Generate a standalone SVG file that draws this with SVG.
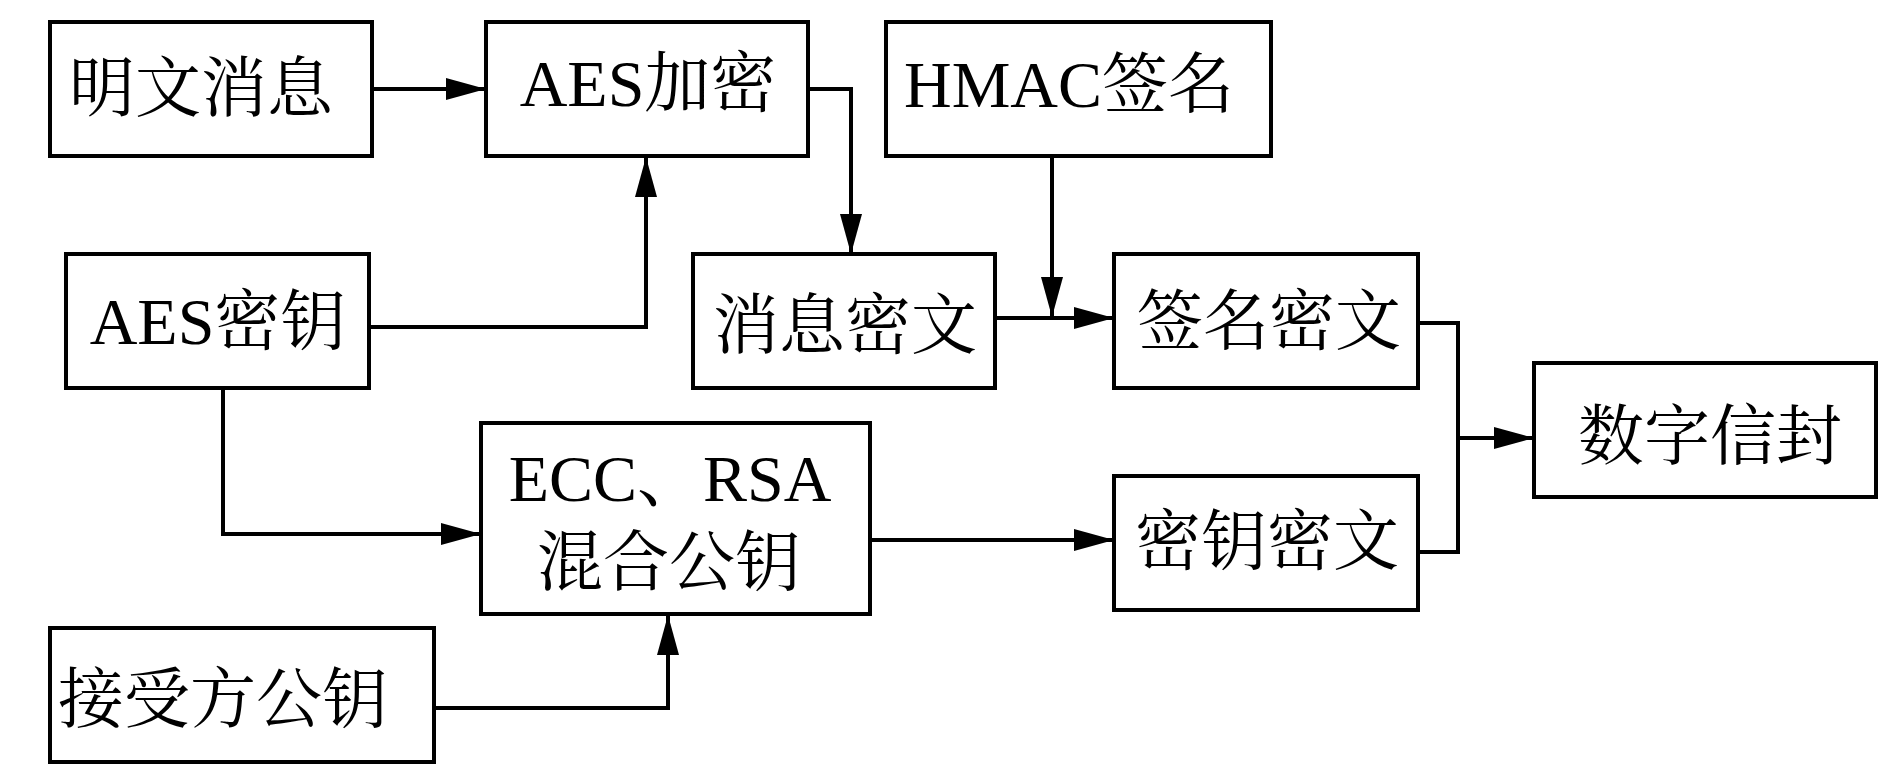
<svg xmlns="http://www.w3.org/2000/svg" width="1890" height="780" viewBox="0 0 1890 780">
<style>
.box{fill:#fff;stroke:#000;stroke-width:4}
.lbl{font-family:"Liberation Serif","Noto Serif CJK SC","Noto Sans CJK SC",serif;font-size:66px;fill:#000;text-anchor:middle}
.con{fill:none;stroke:#000;stroke-width:4}
</style>
<defs>
<marker id="ah" markerUnits="userSpaceOnUse" markerWidth="40" markerHeight="22" refX="40" refY="11" orient="auto" viewBox="0 0 40 22">
<path d="M0,0 L40,11 L0,22 z" fill="#000"/>
</marker>
</defs>
<rect width="1890" height="780" fill="#fff"/>
<g id="connectors">
<path class="con" d="M372,89 H486" marker-end="url(#ah)"/>
<path class="con" d="M369,327 H646 V157" marker-end="url(#ah)"/>
<path class="con" d="M808,89 H851 V254" marker-end="url(#ah)"/>
<path class="con" d="M1052,156 V317" marker-end="url(#ah)"/>
<path class="con" d="M995,318 H1114" marker-end="url(#ah)"/>
<path class="con" d="M1418,323 H1458 V552 H1418"/>
<path class="con" d="M1458,438 H1534" marker-end="url(#ah)"/>
<path class="con" d="M223,388 V534 H481" marker-end="url(#ah)"/>
<path class="con" d="M870,540 H1114" marker-end="url(#ah)"/>
<path class="con" d="M434,708 H668 V615" marker-end="url(#ah)"/>
</g>
<g id="n1"><rect class="box" x="50" y="22" width="322" height="134"/><text class="lbl" x="201" y="111">明文消息</text></g>
<g id="n2"><rect class="box" x="486" y="22" width="322" height="134"/><text class="lbl" x="648" y="106">AES加密</text></g>
<g id="n3"><rect class="box" x="886" y="22" width="385" height="134"/><text class="lbl" x="1069" y="107">HMAC签名</text></g>
<g id="n4"><rect class="box" x="66" y="254" width="303" height="134"/><text class="lbl" x="218" y="344">AES密钥</text></g>
<g id="n5"><rect class="box" x="693" y="254" width="302" height="134"/><text class="lbl" x="845" y="348">消息密文</text></g>
<g id="n6"><rect class="box" x="1114" y="254" width="304" height="134"/><text class="lbl" x="1269" y="344">签名密文</text></g>
<g id="n7"><rect class="box" x="1534" y="363" width="342" height="134"/><text class="lbl" x="1710" y="459">数字信封</text></g>
<g id="n8"><rect class="box" x="481" y="423" width="389" height="191"/><text class="lbl" x="670" y="501">ECC、RSA</text><text class="lbl" x="669" y="585">混合公钥</text></g>
<g id="n9"><rect class="box" x="1114" y="476" width="304" height="134"/><text class="lbl" x="1267" y="564">密钥密文</text></g>
<g id="n10"><rect class="box" x="50" y="628" width="384" height="134"/><text class="lbl" x="223" y="722">接受方公钥</text></g>
</svg>
